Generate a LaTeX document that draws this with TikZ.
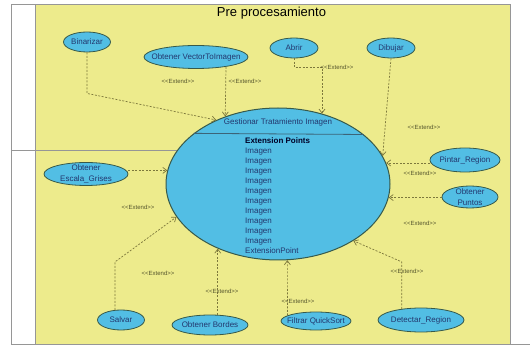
\documentclass[tikz,border=0pt]{standalone}
\usepackage{fontspec}
\setmainfont{Liberation Sans}
\usetikzlibrary{shapes.geometric,arrows.meta}
\definecolor{bgyellow}{RGB}{237,235,140}
\definecolor{ucblue}{RGB}{82,190,228}
\definecolor{ucborder}{RGB}{55,90,75}
\definecolor{uctext}{RGB}{35,55,110}
\definecolor{dashcol}{RGB}{125,120,60}
\definecolor{lblcol}{RGB}{85,85,45}
\definecolor{framegray}{RGB}{150,150,150}
\definecolor{divcol}{RGB}{60,100,120}
\tikzset{
  uc/.style={ellipse, draw=ucborder, fill=ucblue, line width=0.8pt, inner sep=0pt},
  uctxt/.style={inner sep=0pt, text=uctext, font=\fontsize{8}{10.5}\selectfont, align=center},
  extline/.style={draw=dashcol, line width=0.7pt, dash pattern=on 2pt off 1.5pt,
    -{Straight Barb[length=4pt,width=6pt]}},
  lbl/.style={inner sep=0.5pt, text=lblcol, font=\fontsize{6}{7}\selectfont}
}
\newcommand{\extlbl}{<{}<Extend>{}>}
\begin{document}
\begin{tikzpicture}[x=1pt,y=-1pt]
\useasboundingbox (0,0) rectangle (530,347);
\fill[white] (0,0) rectangle (530,347);
\fill[bgyellow] (35,5) rectangle (510,344);
\draw[framegray, line width=1pt] (11,5) -- (510,5) -- (510,344);
\draw[framegray] (11,5) -- (11,344) -- (530,344);
\draw[framegray] (35,5) -- (35,344);
\draw[framegray] (11,150) -- (278,150);

\node[font=\fontsize{13}{15}\selectfont, anchor=base, inner sep=0pt] (title) at (271.5,17) {Pre procesamiento};

% main use case
\node[uc, line width=1pt, minimum width=224pt, minimum height=152pt] (main) at (278,184) {};
\draw[divcol, line width=0.8pt] (main.149.3) -- (main.30.7);
\node[uctxt] (gest) at (278,122) {Gestionar Tratamiento Imagen};
\node[anchor=north west, align=left, inner sep=0pt, text=uctext,
      font=\fontsize{8}{10}\selectfont] (pts) at (245,138)
  {\textcolor{black!85!blue}{\textbf{Extension Points}}\\Imagen\\Imagen\\Imagen\\Imagen\\Imagen\\Imagen\\Imagen\\Imagen\\Imagen\\Imagen\\ExtensionPoint};

% small use cases
\node[uc, minimum width=47pt, minimum height=20pt] (bin) at (87,42) {};
\node[uctxt] (bint) at (bin) {Binarizar};
\node[uc, minimum width=104pt, minimum height=23pt] (vec) at (196,57) {};
\node[uctxt] (vect) at (vec) {Obtener VectorToImagen};
\node[uc, minimum width=48pt, minimum height=20pt] (abr) at (294,48) {};
\node[uctxt] (abrt) at (abr) {Abrir};
\node[uc, minimum width=48pt, minimum height=20pt] (dib) at (391,48) {};
\node[uctxt] (dibt) at (dib) {Dibujar};
\node[uc, minimum width=70pt, minimum height=24pt] (pin) at (465,160) {};
\node[uctxt] (pint) at (pin) {Pintar\_Region};
\node[uc, minimum width=56pt, minimum height=22pt] (pun) at (470,197) {};
\node[uctxt] (punt) at (pun) {Obtener\\Puntos};
\node[uc, minimum width=84pt, minimum height=23pt] (esc) at (86,174) {};
\node[uctxt] (esct) at (esc) {Obtener\\Escala\_Grises};
\node[uc, minimum width=47pt, minimum height=20pt] (sal) at (121,320) {};
\node[uctxt] (salt) at (sal) {Salvar};
\node[uc, minimum width=76pt, minimum height=20pt] (bor) at (210,325) {};
\node[uctxt] (bort) at (bor) {Obtener Bordes};
\node[uc, minimum width=70pt, minimum height=18pt] (fil) at (316,321) {};
\node[uctxt] (filt) at (fil) {Filtrar QuickSort};
\node[uc, minimum width=86pt, minimum height=24pt] (det) at (421,320) {};
\node[uctxt] (dett) at (det) {Detectar\_Region};

% connectors
\draw[extline] (bin.south) -- ++(0,41) -- (main.134.5);
\draw[extline] (vec.-18.1) -- (main.128.3);
\draw[extline] (abr.south) -- ++(0,9) -| (main.58.5);
\draw[extline] (dib.south) -- (main.15.6);
\draw[extline] (main.11 -| pin.west) -- (main.11);
\draw[extline] (main.-7.3 -| pun.west) -- (main.-7.3);
\draw[extline] (main.173.8 -| esc.east) -- (main.173.8);
\draw[extline] (sal.121.7) -- ++(0,-48) -- (main.198.8);
\draw[extline] (main.227.1 |- bor.north) -- (main.227.1);
\draw[extline] (fil.169) -- (main.277.5);
\draw[extline] (det.150.4) -- ++(0,-47) -- (main.-37.6);

% labels
\node[lbl] (l1) at (178,81) {\extlbl};
\node[lbl] (l2) at (245,81) {\extlbl};
\node[lbl] (l3) at (337,67) {\extlbl};
\node[lbl] (l4) at (424,127) {\extlbl};
\node[lbl] (l5) at (420,173) {\extlbl};
\node[lbl] (l6) at (420,223) {\extlbl};
\node[lbl] (l7) at (138,207) {\extlbl};
\node[lbl] (l8) at (158,273) {\extlbl};
\node[lbl] (l9) at (222,291) {\extlbl};
\node[lbl] (l10) at (298,301) {\extlbl};
\node[lbl] (l11) at (407,271) {\extlbl};
\end{tikzpicture}
\end{document}
